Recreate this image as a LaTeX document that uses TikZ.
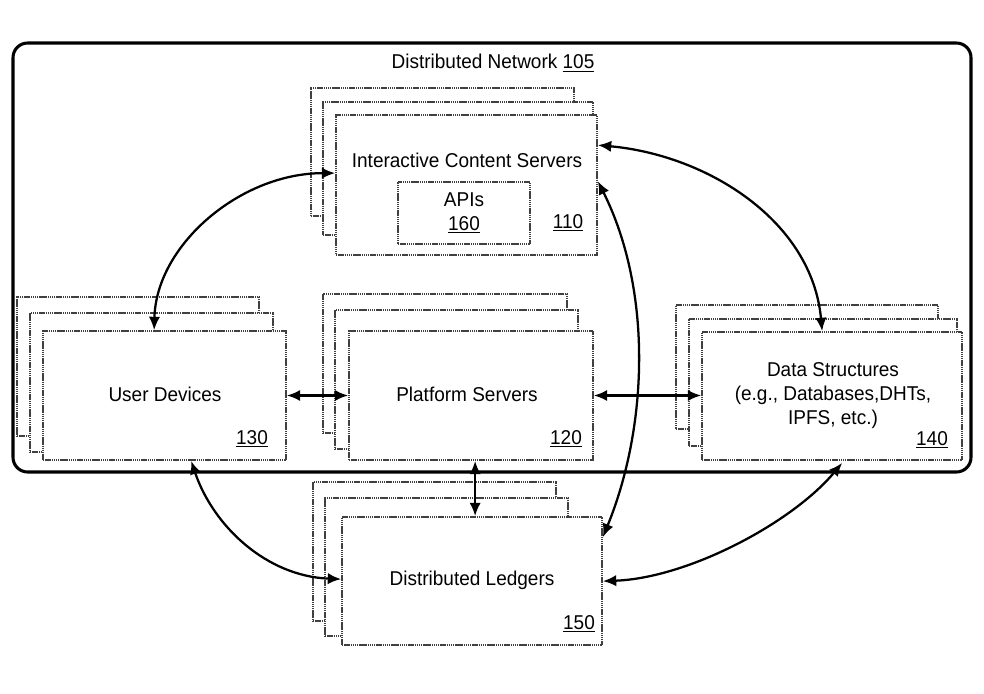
\documentclass[tikz,border=0pt]{standalone}
\usepackage{fontspec}
\setmainfont[FakeStretch=0.95]{Liberation Sans}
\usetikzlibrary{arrows.meta,fit,calc}
\begin{document}
\begin{tikzpicture}[x=0.75pt,y=-0.75pt,
  card/.style={draw=black!75, line width=1.3pt, dash pattern=on 1.1pt off 0.5pt, fill=white, inner sep=0pt},
  frame/.style={draw=black, line width=2.3pt, rounded corners=11pt, inner sep=0pt},
  arr/.style={{Latex[length=10pt,width=8.5pt]}-{Latex[length=10pt,width=8.5pt]}, line width=1.7pt},
  txt/.style={font=\fontsize{15}{18}\selectfont, align=center, inner sep=0pt},
]
\useasboundingbox (0,0) rectangle (984,693);
\fill[white] (0,0) rectangle (984,693);
\node[frame, fit={(13,43)(971,472)}] (net) {};
\node[txt] (nettitle) at (493,63) {Distributed Network \underline{105}};

% Interactive Content Servers
\node[card, fit={(311,88)(574,216)}] (ics3) {};
\node[card, fit={(323,102)(593,235)}] (ics2) {};
\node[card, fit={(336,115)(597,255)}] (ics) {};
\node[txt] (icstext) at (467,160) {Interactive Content Servers};
\node[card, fit={(398,182)(530,244)}] (api) {};
\node[txt] (apitext) at (464,213) {APIs\\\underline{160}};
\node[txt] (icsnum) at (568,223) {\underline{110}};

% User Devices
\node[card, fit={(17,297)(259,436)}] (ud3) {};
\node[card, fit={(30,313)(273,452)}] (ud2) {};
\node[card, fit={(43,331)(286,460)}] (ud) {};
\node[txt] (udtext) at (165,394) {User Devices};
\node[txt] (udnum) at (252,439) {\underline{130}};

% Platform Servers
\node[card, fit={(323,294)(567,433)}] (ps3) {};
\node[card, fit={(335,310)(578,449)}] (ps2) {};
\node[card, fit={(349,331)(593,460)}] (ps) {};
\node[txt] (pstext) at (467,394) {Platform Servers};
\node[txt] (psnum) at (566,439) {\underline{120}};

% Data Structures
\node[card, fit={(676,305)(938,429)}] (ds3) {};
\node[card, fit={(689,319)(957,446)}] (ds2) {};
\node[card, fit={(702,332)(962,460)}] (ds) {};
\node[txt] (dstext) at (833,396) {Data Structures\\(e.g., Databases,DHTs,\\IPFS, etc.)};
\node[txt] (dsnum) at (932,440) {\underline{140}};

% Distributed Ledgers
\node[card, fit={(313,482)(556,621)}] (dl3) {};
\node[card, fit={(325,498)(568,636)}] (dl2) {};
\node[card, fit={(342,517)(602,645)}] (dl) {};
\node[txt] (dltext) at (472,580) {Distributed Ledgers};
\node[txt] (dlnum) at (579,624) {\underline{150}};

% connectors
\coordinate (udtop) at ($(ud.north west)+(112,0)$);
\coordinate (icsl) at ($(ics.north west)+(0,59)$);
\coordinate (icsr1) at ($(ics.north east)+(0,31)$);
\coordinate (icsr2) at ($(ics.north east)+(0,67)$);
\coordinate (dstop) at ($(ds.north west)+(121,0)$);
\coordinate (dlr1) at ($(dl.north east)+(0,21)$);
\coordinate (dlr2) at ($(dl.north east)+(0,65)$);
\coordinate (dll) at ($(dl.north west)+(0,63)$);
\coordinate (udbot) at ($(ud.south west)+(149,0)$);
\coordinate (dsbot) at ($(ds.south west)+(141,2)$);
\coordinate (psbot) at ($(ps.south west)+(127,0)$);

\draw[arr] (udtop) .. controls +(2,-85) and +(-95,0) .. (icsl);
\draw[arr] (icsr1) .. controls +(110,10) and +(-10,-110) .. (dstop);
\draw[arr] (icsr2) .. controls +(55,110) and +(45,-110) .. (dlr1);
\draw[arr] (udbot) .. controls +(22,65) and +(-75,-3) .. (dll);
\draw[arr] (dlr2) .. controls +(85,-3) and +(-50,60) .. (dsbot);
\draw[arr] (ud.east) -- (ps.west);
\draw[arr] (ps.east) -- (ds.west |- ps.east);
\draw[arr] (psbot) -- (psbot |- dl.north);
\end{tikzpicture}
\end{document}
